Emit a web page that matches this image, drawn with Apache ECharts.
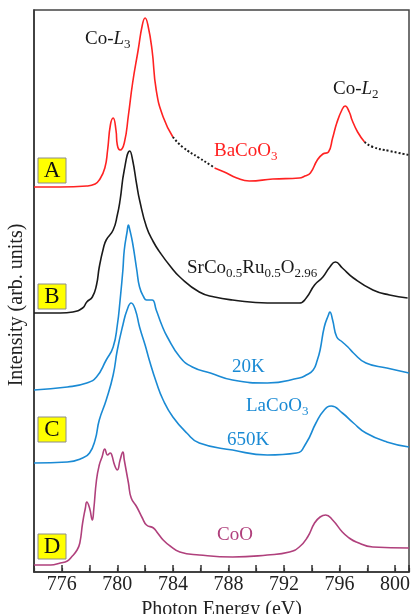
<!DOCTYPE html>
<html><head><meta charset="utf-8">
<script src="https://cdn.jsdelivr.net/npm/echarts@6/dist/echarts.min.js"></script>
<style>html,body{margin:0;padding:0;background:#fff}#c{width:413px;height:614px}</style>
</head><body><div id="c"></div>
<script>
// Photon energy (eV) tick labels
const xTicks = [776, 780, 784, 788, 792, 796, 800];

// A: BaCoO3 (arb. units, curves vertically offset as in the figure)
const baE = [774.0,775.9,777.8,778.4,778.7,779.1,779.3,779.5,779.7,779.9,780.0,780.2,780.5,780.8,781.1,781.5,781.8,782.0,782.2,782.5,782.8,783.3,784.0,784.7,785.9,786.7,787.0,787.7,788.6,789.5,791.2,793.1,793.5,793.9,794.4,794.8,795.2,795.5,795.8,796.2,796.4,796.7,796.9,797.3,797.8,798.4,799.6,801.0];
const baI = [385,385,386,388,392,404,422,447,454,442,427,422,429,457,489,522,547,554,547,522,482,455,435,425,414,407,404,400,394,391,393,394,396,399,412,418,420,434,449,463,466,460,452,440,430,425,421,417];
// energy ranges drawn dotted for BaCoO3
const baDotted = [[784.0, 787.0], [797.8, 801.0]];

// B: SrCo0.5Ru0.5O2.96
const srE = [774.0,775.9,776.8,777.5,777.8,778.2,778.5,778.7,779.0,779.2,779.7,780.0,780.2,780.5,780.9,781.1,781.4,781.6,782.1,782.6,783.1,783.8,784.5,785.9,787.0,788.3,790.8,793.1,793.6,794.2,794.8,795.3,795.7,796.2,797.0,798.4,799.6,800.9];
const srI = [259,259,260,264,270,275,287,305,324,332,342,357,372,402,421,412,387,372,345,330,319,306,295,280,275,272,269,269,274,287,295,305,310,304,294,282,277,274];

// C: LaCoO3 20K
const la20E = [774.0,776.4,777.8,778.5,779.2,779.7,780.0,780.2,780.4,780.5,780.7,780.8,780.9,781.1,781.4,781.6,781.9,782.1,782.5,782.8,783.2,783.6,784.5,785.4,786.7,788.3,790.8,793.1,793.6,794.1,794.4,794.6,794.9,795.2,795.3,795.5,795.8,796.2,796.6,797.0,797.9,799.4,801.0];
const la20I = [182,185,189,195,212,225,247,272,302,322,340,347,342,329,302,285,275,272,272,262,247,235,215,205,199,192,189,194,197,202,212,222,245,257,260,252,235,230,225,219,209,204,199];

// C: LaCoO3 650K
const la650E = [774.0,776.4,777.5,778.0,778.4,778.7,779.2,779.7,780.0,780.4,780.7,781.0,781.3,781.6,782.0,782.3,782.8,783.3,784.0,785.0,785.9,788.3,790.8,792.9,793.6,794.3,794.9,795.4,796.2,797.0,797.9,799.4,801.0];
const la650I = [109,110,114,119,132,152,172,197,222,247,262,269,262,245,227,212,190,172,155,139,129,122,117,119,129,149,162,166,159,149,139,130,125];

// D: CoO
const coE = [774.0,775.2,775.9,776.4,776.7,777.1,777.3,777.5,777.7,777.8,778.0,778.2,778.3,778.5,778.7,778.9,779.1,779.3,779.5,779.6,779.8,780.0,780.2,780.4,780.5,780.8,781.0,781.4,781.8,782.1,782.6,782.9,783.3,783.8,784.5,785.9,788.3,790.8,792.4,793.1,793.7,794.2,794.6,795.0,795.5,796.2,796.7,797.2,798.4,801.0];
const coI = [7,7,9,11,15,22,29,49,64,70,64,52,62,92,107,115,123,117,119,117,107,102,112,120,112,89,74,65,54,47,44,39,32,26,20,17,15,17,20,25,35,49,55,57,52,40,34,30,25,24];

const zip = (e, v) => e.map((x, i) => [x, v[i]]);
const inRange = (x, r) => x >= r[0] - 1e-9 && x <= r[1] + 1e-9;
const baAll = zip(baE, baI);
const baDot = baDotted.map(r => baAll.filter(p => inRange(p[0], r)));
const baSolid = [
  baAll.filter(p => p[0] <= baDotted[0][0] + 1e-9),
  baAll.filter(p => p[0] >= baDotted[0][1] - 1e-9 && p[0] <= baDotted[1][0] + 1e-9)
];

const serif = 'Liberation Serif';
const RED = '#ff2222', BLK = '#1a1a1a', BLUE = '#1a8ad4', MAG = '#b0407c';

function line(data, color, dotted) {
  return {
    type: 'line', data, xAxisIndex: 0, yAxisIndex: 0, showSymbol: false, symbol: 'none',
    smooth: 0.5, silent: true,
    lineStyle: dotted ? { color: BLK, width: 2, type: [2, 2] } : { color, width: 1.6 }
  };
}

function rtext(x, y, text, color) {
  return {
    type: 'text', x, y, silent: true,
    style: {
      text, fill: color, fontFamily: serif, fontSize: 19, verticalAlign: 'middle',
      rich: {
        n: { fontSize: 19, fontFamily: serif, color },
        i: { fontSize: 19, fontFamily: serif, fontStyle: 'italic', color },
        s: { fontSize: 13, fontFamily: serif, color, padding: [11, 0, 0, 0] }
      }
    }
  };
}
function box(x, y, letter) {
  return {
    type: 'group', x, y, silent: true,
    children: [
      { type: 'rect', shape: { x: 0, y: 0, width: 28, height: 25 }, style: { fill: '#ffff00', stroke: '#8c8c8c', lineWidth: 1 } },
      { type: 'text', x: 14, y: 13, style: { text: letter, fontFamily: serif, fontSize: 23, fill: '#111', align: 'center', verticalAlign: 'middle' } }
    ]
  };
}

const chart = echarts.init(document.getElementById('c'), null, { renderer: 'canvas' });
chart.setOption({
  animation: false,
  backgroundColor: '#fff',
  grid: { left: 34, right: 4, top: 10, bottom: 42, show: true, borderColor: '#444', borderWidth: 1.5, outerBoundsMode: 'none' },
  xAxis: [{
    type: 'value', min: 774, max: 801, interval: 2, position: 'bottom',
    name: 'Photon Energy (eV)', nameLocation: 'middle', nameGap: 19,
    nameTextStyle: { fontFamily: serif, fontSize: 20, color: '#222', verticalAlign: 'top', lineHeight: 20 },
    axisLine: { show: true, lineStyle: { color: '#333', width: 1.5 } },
    axisTick: { show: true, inside: true, length: 7, lineStyle: { color: '#333', width: 1.5 },
      interval: (i, v) => xTicks.includes(Number(v)) },
    axisLabel: { margin: 3, fontFamily: serif, fontSize: 20, color: '#222',
      formatter: v => xTicks.includes(v) ? String(v) : '' },
    splitLine: { show: false }
  }, {
    type: 'value', min: 774, max: 801, interval: 2, position: 'bottom',
    axisLine: { show: false },
    axisTick: { show: true, inside: true, length: 4, lineStyle: { color: '#333', width: 1.2 } },
    axisLabel: { show: false }, splitLine: { show: false }
  }],
  yAxis: {
    type: 'value', min: 0, max: 562,
    name: 'Intensity (arb. units)', nameLocation: 'middle', nameGap: 7,
    nameTextStyle: { fontFamily: serif, fontSize: 20, color: '#222', padding: [0, 28, 0, 0] },
    axisLine: { show: true, lineStyle: { color: '#333', width: 1.5 } },
    axisTick: { show: false }, axisLabel: { show: false }, splitLine: { show: false }
  },
  series: [
    line(baSolid[0], RED), line(baSolid[1], RED),
    line(baDot[0], BLK, true), line(baDot[1], BLK, true),
    line(zip(srE, srI), BLK),
    line(zip(la20E, la20I), BLUE),
    line(zip(la650E, la650I), BLUE),
    line(zip(coE, coI), MAG)
  ],
  graphic: [
    rtext(85, 39, '{n|Co-}{i|L}{s|3}', BLK),
    rtext(333, 89, '{n|Co-}{i|L}{s|2}', BLK),
    rtext(214, 151, '{n|BaCoO}{s|3}', RED),
    rtext(187, 268, '{n|SrCo}{s|0.5}{n|Ru}{s|0.5}{n|O}{s|2.96}', BLK),
    rtext(232, 367, '{n|20K}', BLUE),
    rtext(246, 406, '{n|LaCoO}{s|3}', BLUE),
    rtext(227, 440, '{n|650K}', BLUE),
    rtext(217, 535, '{n|CoO}', MAG),
    box(38, 158, 'A'), box(38, 284, 'B'), box(38, 417, 'C'), box(38, 534, 'D')
  ]
});
</script></body></html>
